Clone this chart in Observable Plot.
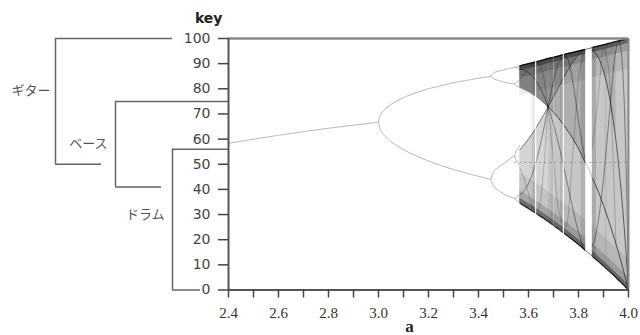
<!DOCTYPE html>
<html><head><meta charset="utf-8">
<script src="https://cdn.jsdelivr.net/npm/d3@7"></script>
<script src="https://cdn.jsdelivr.net/npm/@observablehq/plot@0.6"></script>
<style>
body{margin:0;background:#fff;}
.serif-text text{font-family:"Liberation Serif","DejaVu Serif","Times New Roman",serif !important;}
</style>
</head><body><div id="chart"></div>
<script>
// ---------- data ----------
const xTicks = [2.4,2.5,2.6,2.7,2.8,2.9,3.0,3.1,3.2,3.3,3.4,3.5,3.6,3.7,3.8,3.9,4.0];
const xLabels = [2.4,2.6,2.8,3.0,3.2,3.4,3.6,3.8,4.0];
const yTicks = [0,10,20,30,40,50,60,70,80,90,100];

const groupNames = ["ギター","ベース","ドラム"];
const groupTop = [100, 75, 56];
const groupBottom = [50, 41, 0];

// period-1 branch
const p1A = [2.4, 2.6, 2.8, 3.0];
const p1Key = [58.3, 61.5, 64.3, 66.7];
// period-2 branches
const p2A  = [3.0,3.005,3.01,3.02,3.04,3.07,3.1,3.15,3.2,3.25,3.3,3.35,3.4,3.449];
const p2Hi = [66.7,69.0,69.9,71.3,73.1,75.0,76.5,78.4,80.0,81.2,82.4,83.3,84.2,85.0];
const p2Lo = [66.7,64.3,63.3,61.9,59.8,57.6,55.8,53.4,51.3,49.5,47.9,46.5,45.2,44.0];
// period-4 branches
const p4A    = [3.449,3.46,3.48,3.5,3.52,3.544];
const p4UpHi = [85.0,86.3,87.0,87.5,88.0,88.5];
const p4UpLo = [85.0,84.1,83.3,82.7,82.3,81.9];
const p4DnHi = [44.0,46.8,48.8,50.1,51.8,53.4];
const p4DnLo = [44.0,41.3,39.6,38.3,37.3,36.4];
// period-8 branches
const p8A   = [3.544,3.552,3.56,3.565];
const p8B1H = [88.5,88.8,89.0,89.1], p8B1L = [88.5,88.3,88.1,88.0];
const p8B2H = [81.9,82.8,83.3,83.6], p8B2L = [81.9,81.1,80.7,80.6];
const p8B3H = [53.4,55.5,56.8,57.5], p8B3L = [53.4,51.3,50.2,49.6];
const p8B4H = [36.4,37.0,37.5,37.8], p8B4L = [36.4,35.7,35.0,34.6];
// two-band chaos
const twoA   = [3.565,3.58,3.6,3.62,3.64,3.66,3.678];
const twoTop = [89.1,89.5,90.0,90.5,91.0,91.5,92.0];
const twoF3  = [80.6,79.9,78.9,77.6,76.2,74.5,72.9];
const twoF4  = [55.7,57.5,60.0,62.9,66.1,69.5,72.7];
const twoBot = [34.6,33.6,32.4,31.1,29.8,28.5,27.2];
const twoF5  = [88.0,87.5,86.4,84.5,81.6,77.6,72.9];
const twoF6  = [37.7,39.1,42.4,47.5,54.7,63.6,72.8];
const twoF7  = [83.8,85.3,87.9,90.3,90.2,84.7,72.8];
const twoF8  = [48.5,45.0,38.3,31.8,32.2,47.4,72.8];
// one-band chaos
const oneA   = [3.678,3.7,3.72,3.75,3.78,3.8,3.829,3.855,3.88,3.9,3.92,3.95,3.96,3.97,3.985,3.995,4.0];
const oneTop = [92.0,92.5,93.0,93.8,94.5,95.0,95.7,96.4,97.0,97.5,98.0,98.8,99.0,99.3,99.6,99.9,100];
const oneBot = [27.2,25.7,24.2,22.0,19.7,18.1,15.6,13.4,11.3,9.5,7.7,4.9,3.9,3.0,1.5,0.5,0];
const oneF3  = [72.9,70.6,68.3,64.3,59.7,56.2,50.2,44.6,38.9,33.6,27.8,18.3,14.9,11.4,5.8,2.0,0];
const oneF4  = [72.7,76.8,80.6,86.1,91.0,93.5,95.7,95.2,92.2,87.0,78.7,59.2,50.2,40.1,21.9,7.8,0];
const oneF5  = [72.9,65.9,58.2,44.9,31.1,23.0,15.6,17.6,27.9,44.2,65.8,95.5,99.0,95.4,68.2,28.6,0];
const preF6A = [3.678,3.7,3.72,3.75,3.78,3.8,3.829];
const preF6  = [72.8,83.1,90.5,92.8,81.0,67.2,50.2];
const preF7  = [72.8,51.9,32.1,25.1,58.2,83.7,95.7];
const postF6A = [3.855,3.88,3.9,3.92,3.95];
const postF6  = [56.5,78.1,96.2,88.2,17.2];
// periodic windows
const winStart = [3.628, 3.701, 3.739, 3.829];
const winEnd   = [3.633, 3.703, 3.744, 3.855];
const winAlpha = [0.85, 0.5, 0.85, 1];
// darker vertical streaks inside the chaotic band
const streakStart = [3.615, 3.69, 3.728, 3.81, 3.855, 3.905];
const streakEnd   = [3.628, 3.701, 3.739, 3.829, 3.872, 3.915];
const streakTone  = [0.08, 0.05, 0.08, 0.1, 0.14, 0.05];
// period-3 window branches
const p3A   = [3.829, 3.842, 3.855];
const p3Top = [95.7, 96.0, 96.4];
const p3Mid = [50.2, 48.0, 44.6];
const p3Bot = [15.6, 14.6, 13.4];
const midLineKey = 50.7;

// ---------- helpers ----------
const pts = (a, v) => a.map((x, i) => ({a: x, v: v[i]}));
const band = (a, lo, hi) => a.map((x, i) => ({a: x, lo: lo[i], hi: hi[i]}));
const X_PX = [228, 628], X_DOM = [2.4, 4.0];
const px = d3.scaleLinear(X_PX, X_DOM); // layout pixel -> a

const chaosA = twoA.concat(oneA.slice(1));
const chaosTop = twoTop.concat(oneTop.slice(1));
const chaosBot = twoBot.concat(oneBot.slice(1));
const topAt = d3.scaleLinear(chaosA, chaosTop);
const botAt = d3.scaleLinear(chaosA, chaosBot);

const branchStyle = {x: "a", y: "v", stroke: "#b4b4b4", strokeWidth: 1, strokeDasharray: "2,0.8", curve: "monotone-x"};
const curveStyle = {x: "a", y: "v", stroke: "#000", strokeOpacity: 0.4, strokeWidth: 1, curve: "monotone-x"};
const faintCurve = {...curveStyle, strokeOpacity: 0.2};
const area = (data, op) => Plot.areaY(data, {x: "a", y1: "lo", y2: "hi", fill: "#000", fillOpacity: op, curve: "monotone-x"});
const edge = (off, op) => [
  area(band(chaosA, chaosTop.map(v => v - off), chaosTop), op),
  area(band(chaosA, chaosBot, chaosBot.map(v => v + off)), op)
];

// bracket layout (pixels)
const gLeft = [55, 115, 172], gTopEnd = [172, 228, 228], gBotEnd = [101, 161, 200];
const gLabelEnd = [50, 107, 164], gLabelY = [79, 58, 30];
const idx = [0, 1, 2];

const streaks = streakStart.map((s, i) => ({s, e: streakEnd[i], t: streakTone[i],
  lo: botAt((s + streakEnd[i]) / 2) + 1, hi: topAt((s + streakEnd[i]) / 2) - 1}));

const serif = "Liberation Serif, DejaVu Serif, Times New Roman, serif";

const plot = Plot.plot({
  width: 640, height: 335,
  marginLeft: 228, marginRight: 12, marginTop: 38, marginBottom: 45.5,
  x: {domain: X_DOM, range: X_PX},
  y: {domain: [0, 100]},
  style: {background: "#fff", overflow: "visible"},
  marks: [
    // chaotic bands
    area(band(twoA, twoF3, twoTop), 0.45),
    area(band(twoA, twoBot, twoF4), 0.17),
    area(band(oneA, oneBot, oneTop), 0.22),
    area(band(oneA.slice(0, 7), oneF3.slice(0, 7), oneTop.slice(0, 7)), 0.12),
    area(band(oneA.slice(0, 7), oneF4.slice(0, 7), oneTop.slice(0, 7)), 0.16),
    area(band(oneA.slice(7, 12), oneF4.slice(7, 12), oneTop.slice(7, 12)), 0.1),
    Plot.rect(streaks, {x1: "s", x2: "e", y1: "lo", y2: "hi", fill: "#000", fillOpacity: "t"}),
    ...edge(12, 0.08),
    ...edge(5, 0.15),
    ...edge(2, 0.35),
    Plot.line(pts(twoA, twoF3), curveStyle),
    Plot.line(pts(twoA, twoF4), curveStyle),
    Plot.line(pts(twoA, twoF5), curveStyle),
    Plot.line(pts(twoA, twoF6), curveStyle),
    Plot.line(pts(twoA, twoF7), faintCurve),
    Plot.line(pts(twoA, twoF8), faintCurve),
    Plot.line(pts(oneA, oneF3), {...curveStyle, strokeOpacity: 0.6}),
    Plot.line(pts(oneA, oneF4), {...curveStyle, strokeOpacity: 0.55}),
    Plot.line(pts(oneA, oneF5), curveStyle),
    Plot.line(pts(preF6A, preF6), curveStyle),
    Plot.line(pts(preF6A, preF7), faintCurve),
    Plot.line(pts(postF6A, postF6), faintCurve),
    Plot.line(pts(chaosA, chaosTop), {...curveStyle, strokeOpacity: 0.85, strokeWidth: 1.2}),
    Plot.line(pts(chaosA, chaosBot), {...curveStyle, strokeOpacity: 0.85, strokeWidth: 1.2}),
    // periodic windows
    Plot.rect(winStart.map((s, i) => ({s, e: winEnd[i], o: winAlpha[i]})),
      {x1: "s", x2: "e", y1: 0.3, y2: 99.7, fill: "#fff", fillOpacity: "o"}),
    Plot.line(pts(p3A, p3Top), {...branchStyle, strokeDasharray: null, stroke: "#666"}),
    Plot.line(pts(p3A, p3Mid), {...branchStyle, strokeDasharray: null, stroke: "#bbb"}),
    Plot.line(pts(p3A, p3Bot), {...branchStyle, strokeDasharray: null, stroke: "#666"}),
    // stable branches
    Plot.line(pts(p1A, p1Key), branchStyle),
    Plot.line(pts(p2A, p2Hi), branchStyle),
    Plot.line(pts(p2A, p2Lo), branchStyle),
    Plot.line(pts(p4A, p4UpHi), branchStyle),
    Plot.line(pts(p4A, p4UpLo), branchStyle),
    Plot.line(pts(p4A, p4DnHi), branchStyle),
    Plot.line(pts(p4A, p4DnLo), branchStyle),
    ...[[p8B1H,p8B1L],[p8B2H,p8B2L],[p8B3H,p8B3L],[p8B4H,p8B4L]].flatMap(([h, l]) => [
      Plot.line(pts(p8A, h), branchStyle), Plot.line(pts(p8A, l), branchStyle)]),
    Plot.ruleY([midLineKey], {x1: 3.545, x2: 4.0, stroke: "#777", strokeOpacity: 0.6, strokeDasharray: "2,3"}),
    // frame
    Plot.ruleY([100], {x1: 2.4, x2: 4.0, stroke: "#888", strokeWidth: 2.5}),
    Plot.ruleX([4.0], {y1: 0, y2: 100, stroke: "#888", strokeWidth: 2}),
    Plot.ruleX([2.4], {y1: 0, y2: 100, stroke: "#555", strokeWidth: 2}),
    Plot.ruleY([0], {x1: 2.4, x2: 4.0, stroke: "#555", strokeWidth: 2}),
    // axes
    Plot.axisY(yTicks, {anchor: "left", tickSize: 10, tickPadding: 8, fontSize: 14,
      fontFamily: "DejaVu Sans", color: "#444", strokeWidth: 1.5, label: null}),
    Plot.axisX(xTicks, {anchor: "bottom", tickSize: 8, tickFormat: () => "", color: "#444", strokeWidth: 1.5, label: null}),
    Plot.text(xLabels, {x: d => d, frameAnchor: "bottom", dy: 23.5, text: d => d.toFixed(1), textAnchor: "middle",
      lineAnchor: "middle", fontSize: 15, fontFamily: serif, fill: "#333", className: "serif-text"}),
    Plot.text(["key"], {x: () => px(222), frameAnchor: "top", dy: -20, text: d => d, textAnchor: "end",
      lineAnchor: "middle", fontWeight: "bold", fontSize: 14, fontFamily: "DejaVu Sans", fill: "#222"}),
    Plot.text(["a"], {x: () => px(409), frameAnchor: "bottom", dy: 41.5, text: d => d, textAnchor: "middle",
      lineAnchor: "bottom", fontWeight: "bold", fontSize: 17, fontFamily: serif, fill: "#222", className: "serif-text"}),
    // dendrogram-like group brackets
    Plot.ruleY(idx, {y: i => groupTop[i], x1: i => px(gLeft[i]), x2: i => px(gTopEnd[i]), stroke: "#666", strokeWidth: 1.5}),
    Plot.ruleY(idx, {y: i => groupBottom[i], x1: i => px(gLeft[i]), x2: i => px(gBotEnd[i]), stroke: "#666", strokeWidth: 1.5}),
    Plot.ruleX(idx, {x: i => px(gLeft[i]), y1: i => groupTop[i], y2: i => groupBottom[i], stroke: "#666", strokeWidth: 1.5}),
    Plot.text(idx, {x: i => px(gLabelEnd[i]), y: i => gLabelY[i], text: i => groupNames[i], textAnchor: "end",
      fontSize: 13, fontFamily: "Noto Sans CJK JP", fill: "#555"})
  ]
});
document.getElementById("chart").appendChild(plot);
</script>
</body></html>
